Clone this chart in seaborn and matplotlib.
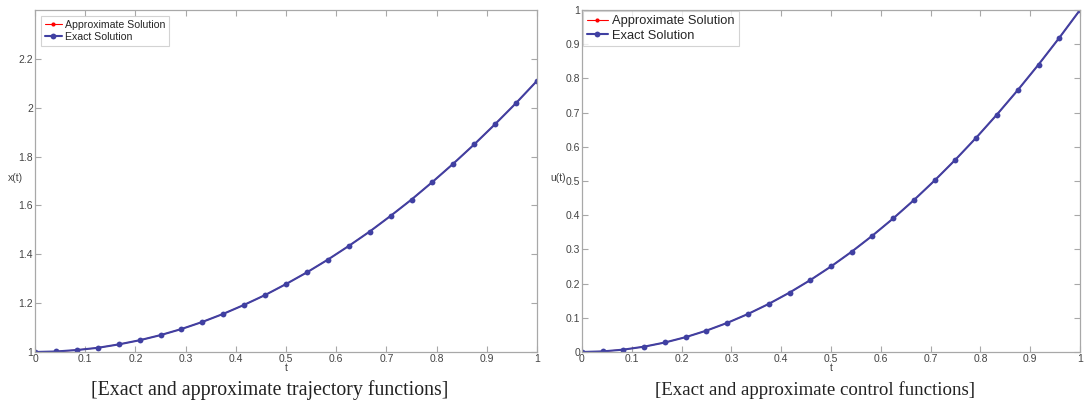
import matplotlib
matplotlib.use("Agg")
import matplotlib.pyplot as plt
import seaborn as sns
import pandas as pd

# time grid (25 nodes) and values
t = [0, 0.0417, 0.0833, 0.125, 0.1667, 0.2083, 0.25, 0.2917, 0.3333, 0.375,
     0.4167, 0.4583, 0.5, 0.5417, 0.5833, 0.625, 0.6667, 0.7083, 0.75,
     0.7917, 0.8333, 0.875, 0.9167, 0.9583, 1.0]
x_exact = [1.0, 1.002, 1.008, 1.017, 1.031, 1.048, 1.069, 1.094, 1.123, 1.156,
           1.193, 1.233, 1.278, 1.326, 1.378, 1.434, 1.493, 1.557, 1.624,
           1.696, 1.771, 1.850, 1.933, 2.019, 2.11]
x_approx = [1.0, 1.002, 1.008, 1.017, 1.031, 1.048, 1.069, 1.094, 1.123, 1.156,
            1.193, 1.233, 1.278, 1.326, 1.378, 1.434, 1.493, 1.557, 1.624,
            1.696, 1.771, 1.850, 1.933, 2.019, 2.11]
u_exact = [0, 0.0017, 0.0069, 0.0156, 0.0278, 0.0434, 0.0625, 0.0851, 0.1111,
           0.1406, 0.1736, 0.2101, 0.25, 0.2934, 0.3403, 0.3906, 0.4444,
           0.5017, 0.5625, 0.6267, 0.6944, 0.7656, 0.8403, 0.9184, 1.0]
u_approx = [0, 0.0017, 0.0069, 0.0156, 0.0278, 0.0434, 0.0625, 0.0851, 0.1111,
            0.1406, 0.1736, 0.2101, 0.25, 0.2934, 0.3403, 0.3906, 0.4444,
            0.5017, 0.5625, 0.6267, 0.6944, 0.7656, 0.8403, 0.9184, 1.0]

x_ticks = [0, 0.1, 0.2, 0.3, 0.4, 0.5, 0.6, 0.7, 0.8, 0.9, 1]
x_tick_labels = ["0", "0.1", "0.2", "0.3", "0.4", "0.5", "0.6", "0.7", "0.8", "0.9", "1"]
left_y_ticks = [1, 1.2, 1.4, 1.6, 1.8, 2, 2.2]
left_y_labels = ["1", "1.2", "1.4", "1.6", "1.8", "2", "2.2"]
right_y_ticks = [0, 0.1, 0.2, 0.3, 0.4, 0.5, 0.6, 0.7, 0.8, 0.9, 1]
right_y_labels = ["0", "0.1", "0.2", "0.3", "0.4", "0.5", "0.6", "0.7", "0.8", "0.9", "1"]

sns.set_style("white")
plt.rcParams["font.family"] = ["Liberation Sans", "DejaVu Sans"]

df_x = pd.DataFrame({"t": t, "approx": x_approx, "exact": x_exact})
df_u = pd.DataFrame({"t": t, "approx": u_approx, "exact": u_exact})

fig = plt.figure(figsize=(10.84, 4.11), dpi=100)
ax1 = fig.add_axes([0.0323, 0.1436, 0.4631, 0.8321])
ax2 = fig.add_axes([0.5369, 0.1436, 0.4594, 0.8321])

blue = "#4040a2"
grey = "#a8a8a8"

panels = [
    (ax1, df_x, (1, 2.4), left_y_ticks, left_y_labels, "x(t)", 7.6, (15, 178), 0.6),
    (ax2, df_u, (0, 1), right_y_ticks, right_y_labels, "u(t)", 9.3, (558, 178), 0.05),
]

for ax, df, ylim, yt, ytl, ylab, legsize, lab_xy, pad in panels:
    sns.lineplot(data=df, x="t", y="approx", ax=ax, color="red", marker="o",
                 markersize=3, markeredgewidth=0, linewidth=0.8,
                 label="Approximate Solution")
    sns.lineplot(data=df, x="t", y="exact", ax=ax, color=blue, marker="o",
                 markersize=4.2, markeredgewidth=0, linewidth=1.5,
                 label="Exact Solution")
    ax.set_xlim(0, 1)
    ax.set_ylim(*ylim)
    ax.set_xticks(x_ticks)
    ax.set_xticklabels(x_tick_labels)
    ax.set_yticks(yt)
    ax.set_yticklabels(ytl)
    ax.tick_params(direction="in", length=4, width=0.8, colors=grey,
                   labelcolor="#444444", labelsize=7.5, pad=1.5,
                   top=True, right=True, bottom=True, left=True)
    for s in ax.spines.values():
        s.set_color(grey)
        s.set_linewidth(0.9)
    ax.set_xlabel("t", fontsize=7.5, color="#444444", labelpad=-1)
    ax.set_ylabel("")
    fig.text(lab_xy[0] / 1084, 1 - lab_xy[1] / 411, ylab, fontsize=7.5,
             color="#444444", ha="center", va="center")
    leg = ax.legend(loc="upper left", fontsize=legsize, handlelength=1.6,
                    handletextpad=0.3, borderpad=0.35, labelspacing=0.2,
                    frameon=True, fancybox=False, borderaxespad=pad)
    leg.get_frame().set_edgecolor("#c8c8c8")
    leg.get_frame().set_linewidth(0.8)

fig.text(270 / 1084, 1 - 390 / 411, "[Exact and approximate trajectory functions]",
         family=["Liberation Serif", "DejaVu Serif"], fontsize=14.3,
         ha="center", va="center", color="#222222")
fig.text(815 / 1084, 1 - 390 / 411, "[Exact and approximate control functions]",
         family=["Liberation Serif", "DejaVu Serif"], fontsize=13.6,
         ha="center", va="center", color="#222222")

fig.savefig("out.png", dpi=100)
plt.close(fig)
